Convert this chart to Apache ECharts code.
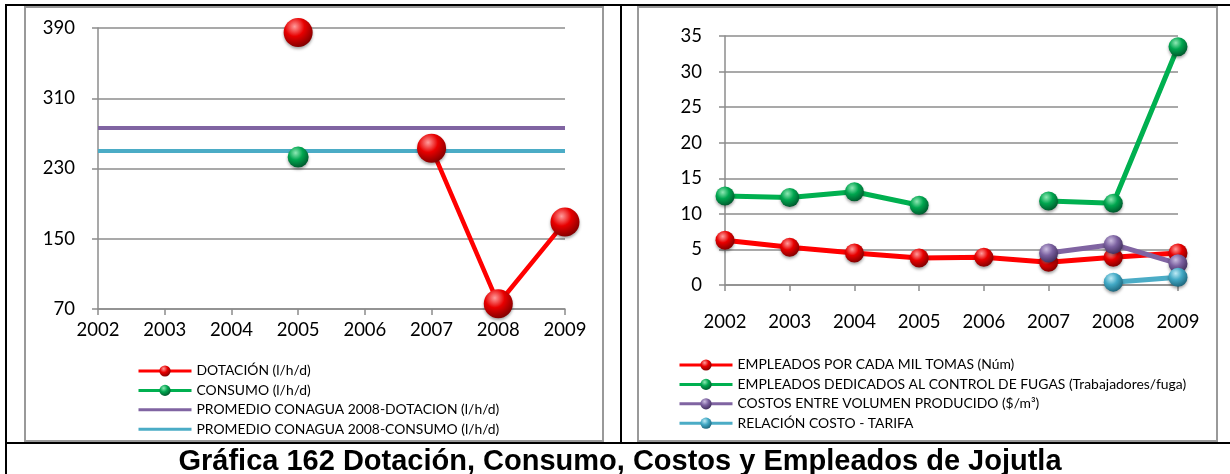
<!DOCTYPE html>
<html><head><meta charset="utf-8">
<script src="https://cdn.jsdelivr.net/npm/echarts@6/dist/echarts.min.js"></script>
<style>html,body{margin:0;padding:0;background:#fff}#c{width:1230px;height:474px}</style>
</head><body><div id="c"></div>
<script>
// ---- data ----
const years = ['2002','2003','2004','2005','2006','2007','2008','2009'];
const dotacion = [null, null, null, 385, null, 253, 76, 169];
const consumo = [null, null, null, 243, null, null, null, null];
const promedioDotacion = [276, 276, 276, 276, 276, 276, 276, 276];
const promedioConsumo = [250, 250, 250, 250, 250, 250, 250, 250];
const empleadosMil = [6.3, 5.3, 4.5, 3.8, 3.9, 3.2, 3.9, 4.5];
const empleadosFugas = [12.5, 12.3, 13.1, 11.2, null, 11.8, 11.5, 33.5];
const costosVolumen = [null, null, null, null, null, 4.5, 5.7, 3.0];
const relacionCosto = [null, null, null, null, null, null, 0.4, 1.1];
const leftTicks = {min: 70, max: 390, interval: 80};
const rightTicks = {min: 0, max: 35, interval: 5};
const leftNames = ['DOTACIÓN (l/h/d)', 'CONSUMO (l/h/d)', 'PROMEDIO CONAGUA 2008-DOTACION (l/h/d)', 'PROMEDIO CONAGUA 2008-CONSUMO (l/h/d)'];
const rightNames = ['EMPLEADOS POR CADA MIL TOMAS (Núm)', 'EMPLEADOS DEDICADOS AL CONTROL DE FUGAS (Trabajadores/fuga)', 'COSTOS ENTRE VOLUMEN PRODUCIDO ($/m³)', 'RELACIÓN COSTO - TARIFA'];
const titleText = 'Gráfica 162 Dotación, Consumo, Costos y Empleados de Jojutla';

// ---- styles ----
const FONT = 'Lato';
const G = echarts.graphic;
function sphere(light, base, dark) {
  return new G.RadialGradient(0.38, 0.3, 0.75, [
    {offset: 0, color: light}, {offset: 0.45, color: base}, {offset: 1, color: dark}
  ]);
}
const RED = '#ff0000', GREEN = '#00b050', PURPLE = '#8064a2', CYAN = '#4bacc6';
const sRed = sphere('#ff9c9c', '#e80000', '#7a0000');
const sGreen = sphere('#8ee8b4', '#00a64f', '#00532a');
const sPurple = sphere('#cbbde0', '#7b61a0', '#3d2b58');
const sCyan = sphere('#bdeaf5', '#42a9c5', '#1a6177');
const GRID = '#8c8c8c';

function xAxisOpt(gridIndex, margin) {
  return {
    type: 'category', gridIndex, data: years, boundaryGap: false,
    axisLine: {lineStyle: {color: GRID, width: 1.5}},
    axisTick: {show: true, alignWithLabel: true, length: 6, lineStyle: {color: GRID, width: 1.5}},
    axisLabel: {color: '#000', fontFamily: FONT, fontSize: 18.5, margin},
    splitLine: {show: false}
  };
}
function yAxisOpt(gridIndex, t) {
  return {
    type: 'value', gridIndex, min: t.min, max: t.max, interval: t.interval,
    axisLine: {show: true, lineStyle: {color: GRID, width: 1.5}},
    axisTick: {show: true, length: 6, lineStyle: {color: GRID, width: 1.5}},
    axisLabel: {color: '#000', fontFamily: FONT, fontSize: 18.5, margin: 23},
    splitLine: {show: true, lineStyle: {color: GRID, width: 1.5}}
  };
}
function lineSeries(name, data, xi, color, fill, size, width) {
  return {
    type: 'line', name, data, xAxisIndex: xi, yAxisIndex: xi,
    connectNulls: false, symbol: 'circle', symbolSize: size, showAllSymbol: true,
    lineStyle: {color, width},
    itemStyle: {color: fill, borderWidth: 0, shadowColor: 'rgba(0,0,0,0.35)', shadowBlur: 3, shadowOffsetY: 2},
    emphasis: {disabled: true}, animation: false
  };
}
function flatSeries(name, data, color) {
  return {
    type: 'line', name, data, xAxisIndex: 0, yAxisIndex: 0,
    symbol: 'none', lineStyle: {color, width: 4}, itemStyle: {color},
    emphasis: {disabled: true}, animation: false
  };
}
const legendText = {color: '#000', fontFamily: FONT, fontSize: 13.9};
const leftLegendData = leftNames.map((n, i) => i < 2 ? {name: n} : {name: n, itemStyle: {opacity: 0}});

const chart = echarts.init(document.getElementById('c'), null, {renderer: 'canvas'});
chart.setOption({
  animation: false,
  backgroundColor: '#fff',
  grid: [
    {left: 98, top: 28, width: 467, height: 281},
    {left: 725, top: 36, width: 453, height: 249}
  ],
  xAxis: [xAxisOpt(0, 12), xAxisOpt(1, 28)],
  yAxis: [yAxisOpt(0, leftTicks), yAxisOpt(1, rightTicks)],
  legend: [
    {data: leftLegendData, orient: 'vertical', left: 132, top: 359, itemWidth: 53, itemHeight: 14, itemGap: 5.4,
     textStyle: legendText, lineStyle: {width: 3}, selectedMode: false},
    {data: rightNames, orient: 'vertical', left: 673, top: 353, itemWidth: 53, itemHeight: 14, itemGap: 5.4,
     textStyle: legendText, lineStyle: {width: 3}, selectedMode: false}
  ],
  series: [
    lineSeries(leftNames[0], dotacion, 0, RED, sRed, 29, 4.5),
    lineSeries(leftNames[1], consumo, 0, GREEN, sGreen, 21, 4.5),
    flatSeries(leftNames[2], promedioDotacion, PURPLE),
    flatSeries(leftNames[3], promedioConsumo, CYAN),
    lineSeries(rightNames[0], empleadosMil, 1, RED, sRed, 19, 5),
    lineSeries(rightNames[1], empleadosFugas, 1, GREEN, sGreen, 19, 5),
    lineSeries(rightNames[2], costosVolumen, 1, PURPLE, sPurple, 19, 5),
    lineSeries(rightNames[3], relacionCosto, 1, CYAN, sCyan, 19, 5)
  ],
  graphic: [
    {type: 'rect', shape: {x: 25, y: 7, width: 578, height: 434}, style: {fill: null, stroke: '#999', lineWidth: 2}, z: -1},
    {type: 'rect', shape: {x: 638, y: 7, width: 579, height: 434}, style: {fill: null, stroke: '#999', lineWidth: 2}, z: -1},
    {type: 'line', shape: {x1: 5, y1: 5, x2: 1230, y2: 5}, style: {stroke: '#000', lineWidth: 2}},
    {type: 'line', shape: {x1: 6, y1: 4, x2: 6, y2: 474}, style: {stroke: '#000', lineWidth: 2}},
    {type: 'line', shape: {x1: 621, y1: 4, x2: 621, y2: 443}, style: {stroke: '#000', lineWidth: 2}},
    {type: 'line', shape: {x1: 5, y1: 443, x2: 1230, y2: 443}, style: {stroke: '#000', lineWidth: 2}},
    {type: 'text', x: 620, y: 462, style: {text: titleText, fill: '#000', font: 'bold 29px "Liberation Sans", Arial, sans-serif', textAlign: 'center', textVerticalAlign: 'middle'}}
  ]
});
</script></body></html>
